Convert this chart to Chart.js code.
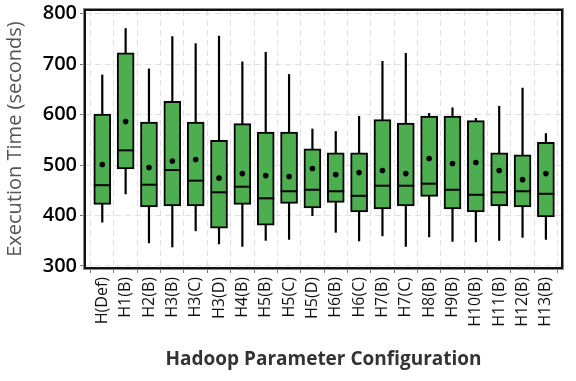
<!DOCTYPE html>
<html>
<head>
<meta charset="utf-8">
<script src="https://cdn.jsdelivr.net/npm/chart.js@4.4.0/dist/chart.umd.min.js"></script>
<style>
  html, body { margin: 0; padding: 0; background: #fff; }
  #wrap { width: 576px; height: 381px; }
</style>
</head>
<body>
<div id="wrap"><canvas id="graphique"></canvas></div>
<script>
const configurations = ["H(Def)", "H1(B)", "H2(B)", "H3(B)", "H3(C)", "H3(D)", "H4(B)", "H5(B)", "H5(C)", "H5(D)",
    "H6(B)", "H6(C)", "H7(B)", "H7(C)", "H8(B)", "H9(B)", "H10(B)", "H11(B)", "H12(B)", "H13(B)"];
const minimums = [386, 442, 345, 337, 369, 343, 338, 350, 352, 399, 366, 349, 359, 338, 357, 348, 347, 350, 356, 352];
const quartile1 = [422, 492, 417, 419, 419, 375, 422, 381, 424, 415, 426, 407, 413, 419, 438, 413, 407, 419, 417, 397];
const medianes = [460, 529, 461, 490, 469, 446, 457, 434, 448, 451, 448, 439, 459, 459, 463, 451, 441, 446, 448, 443];
const quartile3 = [601, 722, 585, 626, 585, 549, 582, 565, 565, 532, 524, 524, 590, 583, 597, 597, 588, 524, 520, 545];
const maximums = [679, 771, 691, 755, 741, 756, 705, 724, 680, 572, 567, 597, 706, 722, 603, 614, 593, 617, 653, 563];
const moyennes = [501, 586, 495, 508, 511, 474, 483, 479, 477, 493, 481, 485, 489, 483, 513, 503, 505, 489, 471, 483];
const yTicks = [300, 400, 500, 600, 700, 800];

// moustaches sous les boites, médianes au-dessus, cadre autour
const boitePlugin = {
    id: "boites",
    beforeDatasetsDraw(chart) {
        const ctx = chart.ctx;
        const x = chart.scales.x, y = chart.scales.y;
        ctx.save();
        ctx.strokeStyle = "#000";
        ctx.lineWidth = 2.2;
        configurations.forEach((c, i) => {
            const px = x.getPixelForValue(i);
            ctx.beginPath();
            ctx.moveTo(px, y.getPixelForValue(minimums[i]));
            ctx.lineTo(px, y.getPixelForValue(maximums[i]));
            ctx.stroke();
        });
        ctx.restore();
    },
    afterDatasetDraw(chart, args) {
        if (args.index !== 0) return;
        const ctx = chart.ctx;
        const y = chart.scales.y;
        const meta = chart.getDatasetMeta(0);
        ctx.save();
        ctx.strokeStyle = "#000";
        ctx.lineWidth = 2;
        meta.data.forEach((bar, i) => {
            const py = y.getPixelForValue(medianes[i]);
            ctx.beginPath();
            ctx.moveTo(bar.x - bar.width / 2, py);
            ctx.lineTo(bar.x + bar.width / 2, py);
            ctx.stroke();
        });
        ctx.restore();
    },
    afterDraw(chart) {
        const ctx = chart.ctx;
        const a = chart.chartArea;
        ctx.save();
        ctx.strokeStyle = "#888";
        ctx.lineWidth = 1;
        ctx.strokeRect(a.left - 1.5, a.top - 1.5, a.right - a.left + 3, a.bottom - a.top + 3);
        ctx.strokeStyle = "#111";
        ctx.lineWidth = 2;
        ctx.strokeRect(a.left, a.top, a.right - a.left, a.bottom - a.top);
        ctx.restore();
    }
};

const ctx = document.querySelector("#graphique").getContext("2d");
new Chart(ctx, {
    type: "bar",
    data: {
        datasets: [{
            label: "boites",
            order: 1,
            data: configurations.map((c, i) => ({ x: i, y: [quartile1[i], quartile3[i]] })),
            backgroundColor: "#4cae4f",
            borderColor: "#000",
            borderWidth: 2,
            borderSkipped: false,
            barThickness: 17
        }, {
            type: "scatter",
            label: "moyenne",
            order: 0,
            data: configurations.map((c, i) => ({ x: i, y: moyennes[i] })),
            backgroundColor: "#000",
            borderColor: "#000",
            pointRadius: 2.8,
            pointBorderWidth: 0
        }]
    },
    options: {
        responsive: true,
        maintainAspectRatio: false,
        animation: false,
        layout: { padding: { top: 0, right: 14, left: 0, bottom: 0 } },
        plugins: { legend: { display: false }, tooltip: { enabled: false } },
        scales: {
            x: {
                type: "linear",
                offset: false,
                min: -0.74,
                max: 19.69,
                afterBuildTicks: scale => { scale.ticks = configurations.map((c, i) => ({ value: i })); },
                afterFit: scale => { scale.height = 113; },
                ticks: {
                    autoSkip: false,
                    minRotation: 90,
                    maxRotation: 90,
                    color: "#111",
                    padding: 4,
                    font: { family: "Open Sans", size: 16, weight: "500" },
                    callback: v => configurations[v]
                },
                grid: { color: "#e0e0e0", tickColor: "#777", tickLength: 5 },
                border: { display: false, dash: [6, 4] },
                title: {
                    display: true,
                    text: "Hadoop Parameter Configuration",
                    color: "#333",
                    font: { family: "Open Sans", size: 19, weight: "bold" },
                    padding: { top: 0, bottom: 10 }
                }
            },
            y: {
                min: 296,
                max: 807,
                afterBuildTicks: scale => { scale.ticks = yTicks.map(v => ({ value: v })); },
                afterFit: scale => { scale.width = 85; },
                ticks: {
                    color: "#000",
                    padding: 3,
                    font: { family: "Open Sans", size: 20, weight: "600", lineHeight: 0.7 }
                },
                grid: { color: "#e0e0e0", tickColor: "#777", tickLength: 5 },
                border: { display: false, dash: [6, 4] },
                title: {
                    display: true,
                    text: "Execution Time (seconds)",
                    color: "#555",
                    font: { family: "Open Sans", size: 20 },
                    padding: { top: 3, bottom: 0 }
                }
            }
        }
    },
    plugins: [boitePlugin]
});
</script>
</body>
</html>
